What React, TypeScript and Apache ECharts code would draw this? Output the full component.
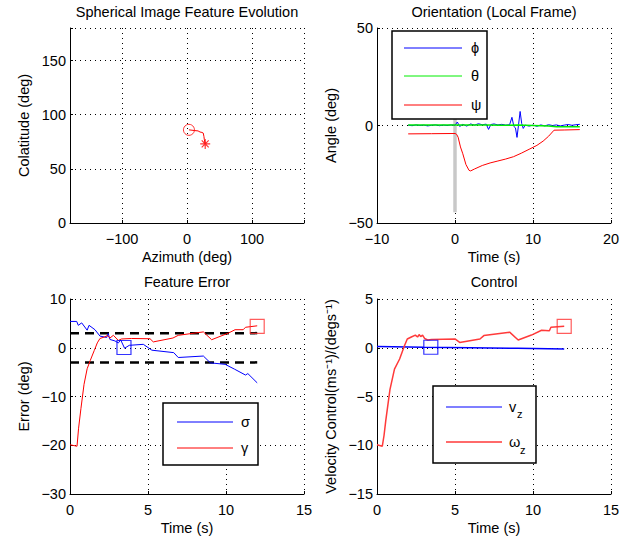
import React, { useEffect, useRef } from 'react';
import * as echarts from 'echarts';

const FONT = "'Liberation Sans', Arial, Helvetica, sans-serif";
const FS = 14.5;

// Panel 1: Spherical image feature evolution
const azimuth = [3, 12, 17, 20, 23, 25, 26, 26.7, 28];
const colatitude = [86, 85.3, 85, 84, 83.6, 83, 80, 77, 73];

// Panel 2: Orientation
const eventT = [0, 0];
const eventV = [-44.5, 10];
const phiT = [-6, -5.5, -5, -4.5, -4, -3.5, -3, -2.5, -2, -1.5, -1, -0.5, 0, 0.3, 0.6, 1, 1.5, 2, 2.5, 3, 3.5, 4, 4.3, 4.6, 5, 5.5, 6, 6.5, 7, 7.3, 7.55, 7.75, 7.95, 8.15, 8.35, 8.55, 8.75, 9.0, 9.5, 10, 10.5, 11, 11.5, 12, 12.5, 13, 13.5, 14, 14.5, 15, 15.5, 16];
const phiV = [0.2, -0.1, 0.3, 0, 0.2, -0.2, 0.1, 0.3, -0.1, 0.2, 0, 0.3, 0.1, 1.8, -0.5, 0.6, -0.3, 0.8, 0.2, 0.9, 0.4, 0.7, -2, 0.5, 0.8, 0.3, 0.6, 0.2, 0.4, 4.2, -0.5, -1.2, -6.1, 0.5, 7.2, 1.0, -1.5, 0.2, -0.3, 0.2, -0.4, 0.3, -0.2, 0.4, 0, 0.3, -0.2, 0.2, 0.5, 0.1, 0.4, 0.6];
const thetaT = [-6, -4, -2, 0, 2, 4, 6, 8, 10, 12, 13, 14.5, 16];
const thetaV = [0.3, 0.2, 0.3, 0.3, 0.2, 0.3, 0.1, 0.2, 0, -0.2, -0.6, -0.7, -0.6];
const psiT = [-6, -3, 0, 0.2, 0.4, 0.7, 1.0, 1.4, 1.8, 2.0, 2.5, 3.5, 4.5, 5.5, 6.5, 7.5, 8.5, 9.5, 10.5, 11.3, 12, 12.7, 14, 16];
const psiV = [-4.3, -4.2, -4.1, -4.5, -6, -11, -14.5, -20, -23, -23.3, -22.3, -20.5, -19.2, -18.2, -17.2, -16, -14.2, -12.2, -10.2, -8, -5.5, -2.4, -2.3, -2.1];

// Panel 3: Feature error
const sigmaT = [0, 0.43, 0.53, 0.75, 1.1, 1.22, 1.6, 1.92, 2.35, 2.45, 2.56, 2.88, 3.1, 3.25, 3.5, 3.8, 4.7, 5.25, 6.65, 6.94, 8.55, 9.0, 9.94, 10.55, 11.25, 11.4, 12.0];
const sigmaV = [5.4, 5.4, 4.6, 5.1, 3.6, 4.6, 3.7, 2.4, 2.1, 2.9, 1.7, 1.4, 1.0, 1.6, -0.1, 0.5, 0.7, -0.5, -1.0, -2.0, -1.7, -3.1, -3.4, -4.4, -5.6, -5.3, -7.2];
const gammaT = [0, 0.45, 0.55, 0.7, 0.9, 1.1, 1.3, 1.55, 1.75, 1.92, 2.2, 2.4, 2.56, 2.78, 3.1, 3.3, 3.95, 5.13, 5.34, 6.6, 6.94, 8.55, 9.08, 10.15, 10.58, 11.1, 11.25, 12.0];
const gammaV = [-19.9, -20.2, -16.5, -12.5, -7.5, -4.3, -2.6, -0.6, 1.0, 1.9, 2.2, 2.5, 2.0, 2.55, 1.5, 1.8, 1.9, 1.85, 1.2, 2.0, 2.55, 3.25, 1.65, 3.0, 3.7, 3.7, 4.2, 4.5];
const boundT = [0, 12];
const upperBound = [3, 3];
const lowerBound = [-3, -3];
const errorStart = [3.46, 0.05];
const errorEnd = [12.0, 4.4];

// Panel 4: Control
const vzT = [0, 3, 6, 9, 12];
const vzV = [0.12, 0.05, 0, -0.06, -0.13];
const omegaT = [0, 0.34, 0.45, 0.56, 0.83, 1.12, 1.45, 1.76, 1.94, 2.2, 2.46, 2.6, 2.7, 2.8, 2.92, 3.05, 3.25, 3.5, 5.0, 5.3, 6.6, 6.85, 8.5, 9.05, 9.9, 10.55, 11.05, 11.15, 12.0];
const omegaV = [-9.95, -10.1, -9.0, -7.5, -4.3, -2.2, -1.15, 0.2, 0.9, 1.1, 1.3, 1.1, 1.35, 1.15, 1.3, 0.95, 0.8, 0.85, 0.9, 0.55, 0.9, 1.25, 1.6, 0.8, 1.3, 1.8, 1.75, 2.1, 2.2];
const controlStart = [3.45, 0.05];
const controlEnd = [12.0, 2.2];

const zip = (a: number[], b: number[]) => a.map((v, i) => [v, b[i]]);
const fmtMinus = (v: number) => String(v).replace('-', '\u2212');

const GRIDS = [
  { left: 70, top: 28, width: 234, height: 195 },
  { left: 377, top: 28, width: 234, height: 195 },
  { left: 70, top: 299, width: 234, height: 195 },
  { left: 377, top: 299, width: 234, height: 195 },
];

function axis(dim: 'x' | 'y', gridIndex: number, min: number, max: number, interval: number | undefined, name: string, labelFilter?: (v: number) => boolean) {
  return {
    type: 'value',
    gridIndex,
    min,
    max,
    interval,
    name,
    nameLocation: 'middle',
    nameGap: dim === 'x' ? 26 : 39,
    nameTextStyle: { fontFamily: FONT, fontSize: FS, color: '#000' },
    axisLine: { show: true, onZero: false, lineStyle: { color: '#000', width: 1 } },
    axisTick: { show: true, inside: true, length: 3, lineStyle: { color: '#000', width: 1 } },
    axisLabel: {
      fontFamily: FONT,
      fontSize: FS,
      color: '#000',
      margin: dim === 'x' ? 8 : 4,
      formatter: (v: number) => (labelFilter && !labelFilter(v) ? '' : fmtMinus(v)),
    },
    splitLine: { show: true, lineStyle: { type: [1, 4], color: '#000', width: 1 } },
  };
}

function lineSeries(xi: number, data: number[][], color: string, width: number, extra: any = {}) {
  return {
    type: 'line',
    xAxisIndex: xi,
    yAxisIndex: xi,
    data,
    symbol: 'none',
    showSymbol: false,
    lineStyle: { color, width },
    itemStyle: { color },
    silent: true,
    clip: false,
    ...extra,
  };
}

function marker(xi: number, point: number[], symbol: string, size: number, color: string, width = 1) {
  return {
    type: 'scatter',
    xAxisIndex: xi,
    yAxisIndex: xi,
    data: [point],
    symbol,
    symbolSize: size,
    itemStyle: { color: 'none', borderColor: color, borderWidth: width },
    silent: true,
    z: 5,
  };
}

function legendBox(x: number, y: number, w: number, h: number, lx1: number, lx2: number, tx: number, rows: { y: number; color: string; width: number; text: string; sub?: string; subDx?: number; subDy?: number }[]) {
  const els: any[] = [
    { type: 'rect', shape: { x, y, width: w, height: h }, style: { fill: '#fff', stroke: '#000', lineWidth: 1.5 }, z: 100 },
  ];
  rows.forEach((r) => {
    els.push({ type: 'line', shape: { x1: lx1, y1: r.y, x2: lx2, y2: r.y }, style: { stroke: r.color, lineWidth: r.width }, z: 101 });
    els.push({
      type: 'text', x: tx, y: r.y, z: 101,
      style: { text: r.text, fill: '#000', font: `${FS}px ${FONT}`, align: 'left', verticalAlign: 'middle', textAlign: 'left', textVerticalAlign: 'middle' },
    });
    if (r.sub) {
      els.push({
        type: 'text', x: tx + (r.subDx ?? 8), y: r.y + (r.subDy ?? 6), z: 101,
        style: { text: r.sub, fill: '#000', font: `11px ${FONT}`, align: 'left', verticalAlign: 'middle', textAlign: 'left', textVerticalAlign: 'middle' },
      });
    }
  });
  return els;
}

const titleStyle = { fontFamily: FONT, fontSize: FS, fontWeight: 'normal', color: '#000' };

const option: any = {
  animation: false,
  backgroundColor: '#fff',
  title: [
    { text: 'Spherical Image Feature Evolution', left: 187, top: 4, textAlign: 'center', padding: 0, textStyle: titleStyle },
    { text: 'Orientation (Local Frame)', left: 494, top: 4, textAlign: 'center', padding: 0, textStyle: titleStyle },
    { text: 'Feature Error', left: 187, top: 274, textAlign: 'center', padding: 0, textStyle: titleStyle },
    { text: 'Control', left: 494, top: 274, textAlign: 'center', padding: 0, textStyle: titleStyle },
  ],
  grid: GRIDS,
  xAxis: [
    axis('x', 0, -180, 180, undefined, 'Azimuth (deg)', (v) => v % 100 === 0),
    axis('x', 1, -10, 20, 10, 'Time (s)'),
    axis('x', 2, 0, 15, 5, 'Time (s)'),
    axis('x', 3, 0, 15, 5, 'Time (s)'),
  ],
  yAxis: [
    axis('y', 0, 0, 180, 50, 'Colatitude (deg)', (v) => v % 50 === 0),
    axis('y', 1, -50, 50, 50, 'Angle (deg)'),
    axis('y', 2, -30, 10, 10, 'Error (deg)'),
    axis('y', 3, -15, 5, 5, 'Velocity Control(ms\u207B\u00B9)/(degs\u207B\u00B9)'),
  ],
  series: [
    // panel 1
    lineSeries(0, zip(azimuth, colatitude), '#ff0000', 1),
    marker(0, [azimuth[0], colatitude[0]], 'circle', 11, '#ff0000', 1),
    marker(0, [azimuth[azimuth.length - 1], colatitude[colatitude.length - 1]], 'path://M0 -5 L0 5 M-5 0 L5 0 M-3.5 -3.5 L3.5 3.5 M-3.5 3.5 L3.5 -3.5', 10, '#ff0000', 1.2),
    // panel 2
    lineSeries(1, zip(eventT, eventV), '#c8c8c8', 3.5),
    lineSeries(1, zip(psiT, psiV), '#ff0000', 1),
    lineSeries(1, zip(phiT, phiV), '#0000ff', 1),
    lineSeries(1, zip(thetaT, thetaV), '#00ee00', 1.5),
    // panel 3
    lineSeries(2, zip(boundT, upperBound), '#000', 2.5, { lineStyle: { color: '#000', width: 2.5, type: [9, 6] } }),
    lineSeries(2, zip(boundT, lowerBound), '#000', 2.5, { lineStyle: { color: '#000', width: 2.5, type: [9, 6] } }),
    lineSeries(2, zip(sigmaT, sigmaV), '#0000ff', 1),
    lineSeries(2, zip(gammaT, gammaV), '#ff0000', 1),
    marker(2, errorStart, 'rect', 14, '#0000ff', 1.2),
    marker(2, errorEnd, 'rect', 14, '#ff3333', 1.2),
    // panel 4
    lineSeries(3, zip(vzT, vzV), '#0000ff', 1.5),
    lineSeries(3, zip(omegaT, omegaV), '#ff3a3a', 1.5),
    marker(3, controlStart, 'rect', 14, '#0000ff', 1.2),
    marker(3, controlEnd, 'rect', 14, '#ff3333', 1.2),
  ],
  graphic: [
    ...legendBox(392, 31, 95, 88, 404, 462, 471, [
      { y: 48, color: '#0000ff', width: 1, text: '\u03D5' },
      { y: 76, color: '#00ee00', width: 1, text: '\u03B8' },
      { y: 105, color: '#ff0000', width: 1, text: '\u03C8' },
    ]),
    ...legendBox(163, 403, 95, 62, 177, 233, 241, [
      { y: 422, color: '#0000ff', width: 1, text: '\u03C3' },
      { y: 448, color: '#ff0000', width: 1, text: '\u03B3' },
    ]),
    ...legendBox(433, 386, 103, 77, 446, 502, 509, [
      { y: 407, color: '#0000ff', width: 1.2, text: 'v', sub: 'z', subDx: 8, subDy: 7 },
      { y: 442, color: '#ff6a6a', width: 2, text: '\u03C9', sub: 'z', subDx: 11, subDy: 8 },
    ]),
  ],
};

export default function App() {
  const ref = useRef<HTMLDivElement>(null);
  useEffect(() => {
    document.body.style.margin = '0';
    const chart = echarts.init(ref.current!, null, { renderer: 'svg' });
    chart.setOption(option);
    return () => chart.dispose();
  }, []);
  return <div ref={ref} style={{ width: 628, height: 537, background: '#fff' }} />;
}
